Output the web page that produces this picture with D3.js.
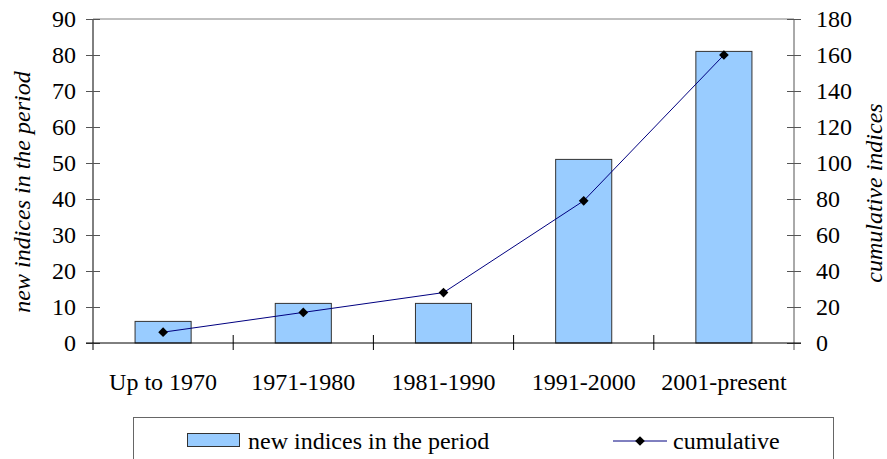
<!DOCTYPE html>
<html>
<head>
<meta charset="utf-8">
<script src="https://cdn.jsdelivr.net/npm/d3@7"></script>
<style>
  body { margin: 0; background: #fff; }
</style>
</head>
<body>
<div id="chart"></div>
<script>
// data
const periods = ["Up to 1970", "1971-1980", "1981-1990", "1991-2000", "2001-present"];
const newIndices = [6, 11, 11, 51, 81];
const cumulative = [6, 17, 28, 79, 160];
const leftTicks = [0, 10, 20, 30, 40, 50, 60, 70, 80, 90];
const rightTicks = [0, 20, 40, 60, 80, 100, 120, 140, 160, 180];

const width = 887, height = 459;
const plot = {left: 93, right: 794, top: 19, bottom: 343};
const serif = "Liberation Serif, Tinos, Times New Roman, DejaVu Serif, serif";
const fs = "24px";

const svg = d3.select("#chart").append("svg")
    .attr("width", width)
    .attr("height", height)
    .attr("font-family", serif);

let x = d3.scaleBand()
    .domain(periods)
    .range([plot.left, plot.right])
    .paddingInner(0)
    .paddingOuter(0);

let yLeft = d3.scaleLinear().domain([0, 90]).range([plot.bottom, plot.top]);
let yRight = d3.scaleLinear().domain([0, 180]).range([plot.bottom, plot.top]);

// top frame line
svg.append("line")
    .attr("x1", plot.left).attr("x2", plot.right)
    .attr("y1", plot.top).attr("y2", plot.top)
    .attr("stroke", "#808080").attr("stroke-width", 1);

// bars
let barW = x.bandwidth() * 0.4;
svg.append("g").selectAll("rect")
    .data(newIndices)
    .enter().append("rect")
    .attr("x", (d, i) => x(periods[i]) + x.bandwidth() / 2 - barW / 2)
    .attr("y", d => yLeft(d))
    .attr("width", barW)
    .attr("height", d => yLeft(0) - yLeft(d))
    .attr("fill", "#99CCFF")
    .attr("stroke", "#333")
    .attr("stroke-width", 1);

function styleText(g) {
    g.attr("font-family", serif).attr("font-size", fs);
    g.selectAll("text")
        .attr("font-family", serif)
        .attr("font-size", fs)
        .attr("fill", "#000");
}

// left axis
let leftAxis = d3.axisLeft(yLeft).tickValues(leftTicks).tickSize(0).tickPadding(17);
let gl = svg.append("g").attr("transform", `translate(${plot.left},0)`).call(leftAxis);
gl.select(".domain").attr("d", `M0,${plot.top}V${plot.bottom + 7}`).attr("stroke", "#000");
styleText(gl);
gl.selectAll(".tick").append("line")
    .attr("x1", -7).attr("x2", 7).attr("stroke", "#555");

// right axis
let rightAxis = d3.axisRight(yRight).tickValues(rightTicks).tickSize(0).tickPadding(22);
let gr = svg.append("g").attr("transform", `translate(${plot.right},0)`).call(rightAxis);
gr.select(".domain").attr("d", `M0,${plot.top}V${plot.bottom + 7}`).attr("stroke", "#555");
styleText(gr);
gr.selectAll(".tick").append("line")
    .attr("x1", -7).attr("x2", 7).attr("stroke", "#555");

// category axis
let bottomAxis = d3.axisBottom(x).tickSize(0).tickPadding(30);
let gb = svg.append("g").attr("transform", `translate(0,${plot.bottom})`).call(bottomAxis);
gb.select(".domain").attr("d", `M${plot.left - 7},0H${plot.right + 7}`).attr("stroke", "#000");
styleText(gb);
// tick marks between categories
let bounds = periods.map(p => x(p) + x.bandwidth()).slice(0, -1);
gb.selectAll(".sep").data(bounds).enter().append("line")
    .attr("x1", d => d).attr("x2", d => d)
    .attr("y1", -8).attr("y2", 7)
    .attr("stroke", "#000");

// cumulative line
let line = d3.line()
    .x((d, i) => x(periods[i]) + x.bandwidth() / 2)
    .y(d => yRight(d));
svg.append("path")
    .datum(cumulative)
    .attr("d", line)
    .attr("fill", "none")
    .attr("stroke", "#000080")
    .attr("stroke-width", 1);

let diamond = d3.symbol().type(d3.symbolDiamond2).size(60);
svg.append("g").selectAll("path")
    .data(cumulative)
    .enter().append("path")
    .attr("d", diamond)
    .attr("transform", (d, i) => `translate(${x(periods[i]) + x.bandwidth() / 2},${yRight(d)})`)
    .attr("fill", "#000");

// axis titles
svg.append("text")
    .attr("transform", "translate(30,192) rotate(-90)")
    .attr("text-anchor", "middle")
    .attr("font-size", fs)
    .attr("font-style", "italic")
    .text("new indices in the period");

svg.append("text")
    .attr("transform", "translate(882,193) rotate(-90)")
    .attr("text-anchor", "middle")
    .attr("font-size", fs)
    .attr("font-style", "italic")
    .text("cumulative indices");

// legend
let legend = svg.append("g");
legend.append("rect")
    .attr("x", 133.5).attr("y", 417.5)
    .attr("width", 700).attr("height", 60)
    .attr("fill", "#fff").attr("stroke", "#666").attr("stroke-width", 1);
legend.append("rect")
    .attr("x", 187.5).attr("y", 433.5)
    .attr("width", 52).attr("height", 13)
    .attr("fill", "#99CCFF").attr("stroke", "#333");
legend.append("text")
    .attr("x", 248).attr("y", 449)
    .attr("font-size", fs)
    .text("new indices in the period");
legend.append("line")
    .attr("x1", 613).attr("x2", 667)
    .attr("y1", 441).attr("y2", 441)
    .attr("stroke", "#000080");
legend.append("path")
    .attr("d", diamond)
    .attr("transform", "translate(640,441)")
    .attr("fill", "#000");
legend.append("text")
    .attr("x", 673).attr("y", 449)
    .attr("font-size", fs)
    .text("cumulative");
</script>
</body>
</html>
